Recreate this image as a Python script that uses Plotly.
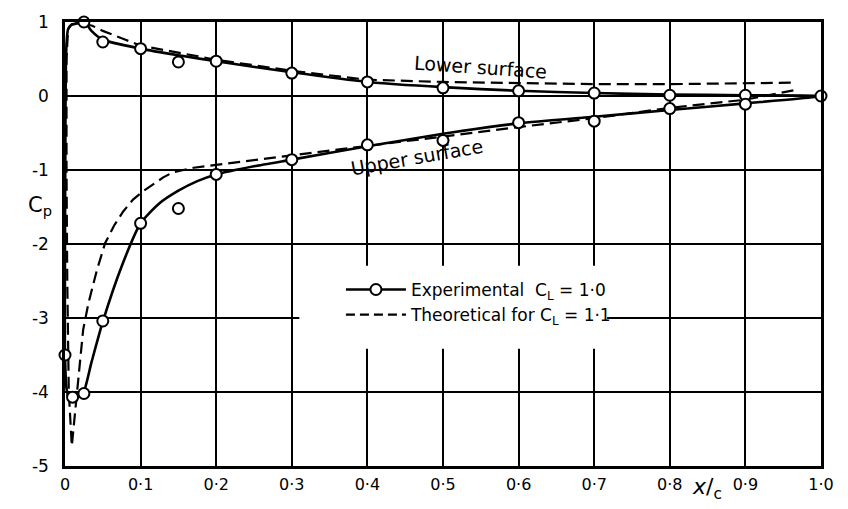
import plotly.graph_objects as go

# ---- Data ----
# Experimental faired curve (lower surface TE -> LE -> upper surface TE)
exp_curve_x = [1.0, 0.9, 0.8, 0.7, 0.6, 0.5, 0.4, 0.3, 0.2, 0.15, 0.1, 0.05, 0.035, 0.026,
               0.015, 0.008, 0.004, 0.002, 0.001, 0.0005, 0.0, 0.0, 0.002, 0.005, 0.01, 0.016,
               0.024, 0.035, 0.05, 0.075, 0.1, 0.125, 0.15, 0.175, 0.2, 0.25, 0.3, 0.4, 0.5,
               0.6, 0.7, 0.8, 0.9, 1.0]
exp_curve_cp = [0.0, 0.01, 0.02, 0.04, 0.07, 0.12, 0.19, 0.32, 0.47, 0.55, 0.64, 0.76, 0.88, 1.0,
                0.98, 0.96, 0.9, 0.7, 0.3, -0.5, -2.0, -3.5, -3.95, -4.07, -4.1, -4.08,
                -4.02, -3.6, -3.05, -2.3, -1.72, -1.45, -1.28, -1.15, -1.06, -0.95, -0.86, -0.68, -0.51,
                -0.37, -0.28, -0.19, -0.1, 0.0]

# Experimental points
lower_x = [0.025, 0.05, 0.1, 0.15, 0.2, 0.3, 0.4, 0.5, 0.6, 0.7, 0.8, 0.9, 1.0]
lower_cp = [1.0, 0.73, 0.64, 0.46, 0.47, 0.31, 0.19, 0.11, 0.07, 0.04, 0.01, 0.01, 0.0]
upper_x = [0.0, 0.01, 0.025, 0.05, 0.1, 0.15, 0.2, 0.3, 0.4, 0.5, 0.6, 0.7, 0.8, 0.9]
upper_cp = [-3.5, -4.07, -4.02, -3.04, -1.72, -1.52, -1.06, -0.86, -0.66, -0.6, -0.36, -0.34, -0.17, -0.11]

# Theoretical curve (C_L = 1.1)
th_x = [0.96, 0.9, 0.8, 0.7, 0.6, 0.5, 0.4, 0.3, 0.2, 0.15, 0.1, 0.08, 0.06, 0.05, 0.036, 0.02,
        0.009, 0.004, 0.002, 0.002, 0.003, 0.005, 0.009, 0.015, 0.02, 0.024, 0.031, 0.042, 0.053,
        0.065, 0.077, 0.09, 0.103, 0.13, 0.143, 0.17, 0.2, 0.3, 0.4, 0.5, 0.6, 0.7, 0.8, 0.9, 0.965]
th_cp = [0.18, 0.17, 0.16, 0.16, 0.17, 0.19, 0.22, 0.34, 0.49, 0.58, 0.68, 0.76, 0.84, 0.88, 0.95, 0.99,
         0.97, 0.9, 0.5, -1.0, -2.5, -4.0, -4.73, -4.1, -3.6, -3.16, -2.8, -2.36, -1.99,
         -1.75, -1.56, -1.4, -1.29, -1.1, -1.03, -0.97, -0.93, -0.8, -0.68, -0.55, -0.42, -0.3, -0.16, -0.05, 0.08]

x_ticks = [0, 0.1, 0.2, 0.3, 0.4, 0.5, 0.6, 0.7, 0.8, 0.9, 1.0]
x_tick_labels = ["0", "0·1", "0·2", "0·3", "0·4", "0·5", "0·6", "0·7", "0·8", "0·9", "1·0"]
y_ticks = [1, 0, -1, -2, -3, -4, -5]
y_tick_labels = ["1", "0", "-1", "-2", "-3", "-4", "-5"]

FONT = "DejaVu Sans"

fig = go.Figure()

fig.add_trace(go.Scatter(x=th_x, y=th_cp, mode="lines",
                         line=dict(color="black", width=2.2, dash="12px,6px"),
                         showlegend=False, cliponaxis=False))
fig.add_trace(go.Scatter(x=exp_curve_x, y=exp_curve_cp, mode="lines",
                         line=dict(color="black", width=2.6, shape="spline", smoothing=0.6),
                         showlegend=False, cliponaxis=False))
marker_style = dict(symbol="circle", size=11, color="white", line=dict(color="black", width=2))
fig.add_trace(go.Scatter(x=lower_x, y=lower_cp, mode="markers", marker=marker_style,
                         showlegend=False, cliponaxis=False))
fig.add_trace(go.Scatter(x=upper_x, y=upper_cp, mode="markers", marker=marker_style,
                         showlegend=False, cliponaxis=False))
# legend entries
fig.add_trace(go.Scatter(x=[None], y=[None], mode="lines+markers",
                         line=dict(color="black", width=2.6), marker=marker_style,
                         name="Experimental  C<sub>L</sub> = 1·0"))
fig.add_trace(go.Scatter(x=[None], y=[None], mode="lines",
                         line=dict(color="black", width=2.2, dash="9px,5px"),
                         name="Theoretical for C<sub>L</sub> = 1·1"))

fig.update_layout(
    width=848, height=509,
    margin=dict(l=65, r=27, t=16, b=43),
    paper_bgcolor="white", plot_bgcolor="white",
    font=dict(family=FONT, color="black", size=15),
    legend=dict(x=0.365, y=0.437, xanchor="left", yanchor="top",
                bgcolor="rgba(0,0,0,0)", borderwidth=0, font=dict(size=17, family=FONT),
                itemwidth=60),
    shapes=[dict(type="rect", xref="paper", yref="paper", x0=0.31, x1=0.717, y0=0.264, y1=0.451,
                 fillcolor="white", line=dict(width=0), layer="above")],
    xaxis=dict(range=[0, 1.0], tickvals=x_ticks, ticktext=x_tick_labels,
               showgrid=True, gridcolor="black", gridwidth=1.6,
               showline=True, linecolor="black", linewidth=2.5, mirror=True,
               zeroline=False, ticks="", ticklabelstandoff=2,
               tickfont=dict(size=16)),
    yaxis=dict(range=[-5, 1], tickvals=y_ticks, ticktext=y_tick_labels,
               showgrid=True, gridcolor="black", gridwidth=1.6,
               showline=True, linecolor="black", linewidth=2.5, mirror=True,
               zeroline=False, ticks="", ticklabelstandoff=10,
               tickfont=dict(size=17)),
    annotations=[
        dict(x=0.549, y=0.39, xref="x", yref="y", text="Lower surface", showarrow=False,
             textangle=4, font=dict(size=19)),
        dict(x=0.466, y=-0.83, xref="x", yref="y", text="Upper surface", showarrow=False,
             textangle=-10, font=dict(size=19)),
        dict(x=-0.052, y=0.585, xref="paper", yref="paper", text="C<sub>p</sub>", showarrow=False,
             font=dict(size=21)),
        dict(x=0.872, y=-0.088, xref="paper", yref="paper", text="<i>x</i>/<sub>c</sub>",
             showarrow=False, font=dict(size=22)),
    ],
)

fig.write_html("out.html")
